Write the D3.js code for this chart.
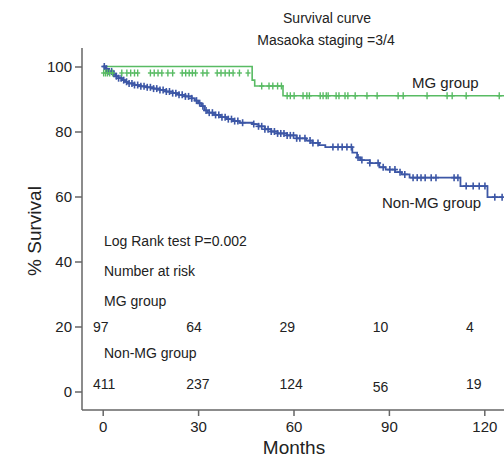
<!DOCTYPE html>
<html>
<head>
<meta charset="utf-8">
<script src="https://cdn.jsdelivr.net/npm/d3@7"></script>
<style>
  body { margin: 0; background: #fff; }
  text { font-family: "Liberation Sans", Arial, Helvetica, sans-serif; fill: #222; }
</style>
</head>
<body>
<script>
// Kaplan-Meier steps: [months, % survival]
var mgSteps = [[0, 100], [47, 95.8], [47.8, 94], [56.7, 91], [126.2, 91]];
var nonMgSteps = [
  [0, 100], [1, 99.3], [2, 98.5], [3, 97.8], [4, 97], [5, 96.4], [6, 95.8], [7, 95.3],
  [8, 94.8], [10, 94.3], [12, 93.9], [14, 93.6], [16, 93.2], [18, 92.8], [20, 92.3],
  [22, 91.8], [24, 91.3], [26, 90.8], [28, 90.2], [29, 89.5], [30, 88.7], [31, 87.8],
  [32, 86.5], [33, 85.8], [35, 85.1], [37, 84.4], [39, 83.8], [41, 83.2], [43, 82.7],
  [47, 82.3], [49, 81.6], [51, 80.7], [53, 80], [55, 79.4], [58, 78.8], [61, 77.9],
  [64, 77.2], [66, 76.5], [68, 75.8], [70, 75.2], [78.5, 73.5], [80, 72], [81, 71.2],
  [84, 70.3], [87, 69], [89, 68.3], [92, 67.5], [94, 66.8], [96.5, 65.8], [112.5, 63.2],
  [121, 59.8], [126, 59.8]
];

// censored observations
var mgCensor = [
  [0.3, 98], [0.9, 98], [1.5, 98], [2.2, 98], [3.1, 98], [6, 98], [7.6, 98], [8.8, 98],
  [10, 98], [11, 98], [15, 98], [16.2, 98], [17.4, 98], [18.6, 98], [20.5, 98], [22, 98],
  [25, 98], [26.1, 98], [27.2, 98], [28.2, 98], [29.2, 98], [31.5, 98], [32.8, 98],
  [36, 98], [37.2, 98], [38.5, 98], [39.8, 98], [41, 98], [43, 98], [45.7, 98],
  [50, 94], [52.3, 94], [53.5, 94], [55, 94], [56.2, 94],
  [58, 91], [59, 91], [60.2, 91], [63, 91], [64.2, 91], [65, 91], [68.4, 91], [69.3, 91],
  [70.3, 91], [70.9, 91], [73.4, 91], [74.3, 91], [76.2, 91], [77.1, 91], [79.4, 91],
  [83.1, 91], [86.3, 91], [92.9, 91], [94.5, 91], [102, 91], [108.3, 91], [109.9, 91],
  [114.3, 91], [124.7, 91]
];
var nonMgCensor = [
  0.5, 1.2, 2, 2.8, 3.5, 4.3, 5, 5.8, 6.6, 7.5, 8.3, 9.2, 10, 11, 12, 13, 14, 15, 16,
  17, 18, 19, 20, 21, 22, 23, 24, 25, 26, 27, 28, 29.5, 30.5, 31.5, 32.5, 33.5, 34.5,
  35.5, 36.5, 37.5, 38.5, 39.5, 40.5, 41.5, 42.5, 44, 47.5, 49, 50, 51, 52, 53, 54,
  55, 56, 57, 58, 59, 60, 61, 62, 63.6, 65.2, 66.1, 67.7, 72.4, 74, 75.3, 76.8, 78.2,
  80.3, 81.5, 84, 86.6, 88.2, 90.3, 91.9, 93.5, 95, 97.6, 98.9, 100.1, 101.4, 103.3,
  104.8, 110.5, 111.7, 114.3, 116.5, 118.4, 120.2, 123.3, 125.6
];

var xTicks = [0, 30, 60, 90, 120];
var yTicks = [0, 20, 40, 60, 80, 100];
var riskTimes = [0, 30, 60, 90, 120];
var mgRisk = [97, 64, 29, 10, 4];
var nonMgRisk = [411, 237, 124, 56, 19];

var W = 504, H = 459;
var green = '#58bb63', blue = '#3d57a6', axisCol = '#666';

var svg = d3.select('body').append('svg').attr('width', W).attr('height', H);

var x = d3.scaleLinear().domain([0, 120]).range([102.7, 484.3]);
var y = d3.scaleLinear().domain([0, 100]).range([391.5, 66.5]);
// risk table columns are left-aligned and sit a bit left of the ticks
var riskX = d3.scaleLinear().domain([0, 120]).range([93, 466]);
var axisX = 82, axisY = 410;

// axes (offset from data origin)
svg.append('line').attr('x1', axisX).attr('x2', axisX).attr('y1', 48).attr('y2', axisY)
  .attr('stroke', axisCol).attr('stroke-width', 1.5);
svg.append('line').attr('x1', axisX).attr('x2', W).attr('y1', axisY).attr('y2', axisY)
  .attr('stroke', axisCol).attr('stroke-width', 1.5);

var yAxis = svg.append('g').attr('transform', `translate(${axisX},0)`)
  .call(d3.axisLeft(y).tickValues(yTicks).tickSize(7).tickPadding(3));
var xAxis = svg.append('g').attr('transform', `translate(0,${axisY})`)
  .call(d3.axisBottom(x).tickValues(xTicks).tickSize(6).tickPadding(5));
[xAxis, yAxis].forEach(function (a) {
  a.select('.domain').remove();
  a.selectAll('line').attr('stroke', axisCol).attr('stroke-width', 1.5);
  a.selectAll('text').style('font-size', '15px').attr('fill', '#222')
    .style('font-family', '"Liberation Sans", Arial, sans-serif');
});

// curves
var line = d3.line().x(function (d) { return x(d[0]); }).y(function (d) { return y(d[1]); })
  .curve(d3.curveStepAfter);

svg.append('path').datum(mgSteps).attr('d', line).attr('fill', 'none')
  .attr('stroke', green).attr('stroke-width', 1.6);
svg.append('path').datum(nonMgSteps).attr('d', line).attr('fill', 'none')
  .attr('stroke', blue).attr('stroke-width', 1.8);

function survAt(steps, t) {
  var s = steps[0][1];
  steps.forEach(function (d) { if (d[0] <= t) s = d[1]; });
  return s;
}

function cross(sel, col, w, arm) {
  sel.append('line').attr('x1', -arm).attr('x2', arm).attr('y1', 0).attr('y2', 0)
    .attr('stroke', col).attr('stroke-width', w);
  sel.append('line').attr('x1', 0).attr('x2', 0).attr('y1', -3.5).attr('y2', 3.5)
    .attr('stroke', col).attr('stroke-width', w);
}

svg.append('g').selectAll('g').data(nonMgCensor).enter().append('g')
  .attr('transform', function (t) { return `translate(${x(t)},${y(survAt(nonMgSteps, t))})`; })
  .call(cross, blue, 1.6, 3);

svg.append('g').selectAll('g').data(mgCensor).enter().append('g')
  .attr('transform', function (d) { return `translate(${x(d[0])},${y(d[1])})`; })
  .call(cross, green, 1.4, 2.5);

// titles and labels
svg.append('text').attr('x', 327).attr('y', 23).attr('text-anchor', 'middle')
  .style('font-size', '14px').text('Survival curve');
svg.append('text').attr('x', 326).attr('y', 45).attr('text-anchor', 'middle')
  .style('font-size', '14px').text('Masaoka staging =3/4');

svg.append('text').attr('x', 412).attr('y', 88).style('font-size', '15px').text('MG group');
svg.append('text').attr('x', 382).attr('y', 208).style('font-size', '15px').text('Non-MG group');

svg.append('text').attr('transform', 'translate(41,231) rotate(-90)').attr('text-anchor', 'middle')
  .style('font-size', '19px').text('% Survival');
svg.append('text').attr('x', 294).attr('y', 454).attr('text-anchor', 'middle')
  .style('font-size', '19px').text('Months');

// risk table
var tx = 104;
svg.append('text').attr('x', tx).attr('y', 246).style('font-size', '14px').text('Log Rank test P=0.002');
svg.append('text').attr('x', tx).attr('y', 276).style('font-size', '14px').text('Number at risk');
svg.append('text').attr('x', tx).attr('y', 306).style('font-size', '14px').text('MG group');
svg.append('text').attr('x', tx).attr('y', 358).style('font-size', '14px').text('Non-MG group');

svg.append('g').selectAll('text').data(mgRisk).enter().append('text')
  .attr('x', function (d, i) { return riskX(riskTimes[i]); }).attr('y', 332)
  .style('font-size', '14px').text(function (d) { return d; });
svg.append('g').selectAll('text').data(nonMgRisk).enter().append('text')
  .attr('x', function (d, i) { return riskX(riskTimes[i]); })
  .attr('y', function (d, i) { return i === 3 ? 392 : 389; })
  .style('font-size', '14px').text(function (d) { return d; });
</script>
</body>
</html>
